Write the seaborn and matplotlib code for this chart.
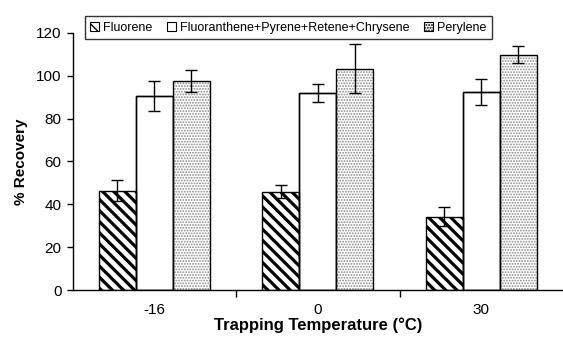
import matplotlib
matplotlib.use("Agg")
import matplotlib.pyplot as plt
import seaborn as sns
import pandas as pd
import numpy as np
from matplotlib.patches import Rectangle, Patch

categories = ["-16", "0", "30"]
series = ["Fluorene", "Fluoranthene+Pyrene+Retene+Chrysene", "Perylene"]
fluorene = [46.4, 45.8, 34.3]
fluoranthene = [90.6, 91.9, 92.4]
perylene = [97.6, 103.3, 109.8]
err_fluorene = [5.0, 3.0, 4.6]
err_fluoranthene = [7.0, 4.2, 6.2]
err_perylene = [5.0, 11.5, 4.0]

sns.set_theme(style="white")
plt.rcParams["font.family"] = ["Liberation Sans", "DejaVu Sans"]
for k in ["text.color", "axes.labelcolor", "xtick.color", "ytick.color"]:
    plt.rcParams[k] = "black"

rows = []
for s, vals in zip(series, [fluorene, fluoranthene, perylene]):
    for c, v in zip(categories, vals):
        rows.append({"Temp": c, "Series": s, "Value": v})
df = pd.DataFrame(rows)

fig = plt.figure(figsize=(5.63, 3.42), dpi=100)
ax = fig.add_axes([0.129, 0.152, 0.871, 0.752])
sns.barplot(data=df, x="Temp", y="Value", hue="Series", order=categories,
            hue_order=series, ax=ax, errorbar=None, width=0.68,
            palette=["white", "white", "white"], legend=False)

styles = [
    dict(hatch="\\\\\\", hcolor="black", hlw=2.3),
    dict(hatch=None, hcolor="black", hlw=1.0),
    dict(hatch="......", hcolor="#8a8a8a", hlw=0.9),
]
errs = [err_fluorene, err_fluoranthene, err_perylene]
conts = list(ax.containers)
for i, cont in enumerate(conts):
    st = styles[i]
    xs, ys = [], []
    for p in cont.patches:
        p.set_facecolor("white")
        if st["hatch"]:
            p.set_hatch(st["hatch"])
            p.set_edgecolor(st["hcolor"])
            p.set_linewidth(0)
            if hasattr(p, "set_hatch_linewidth"):
                p.set_hatch_linewidth(st["hlw"])
        else:
            p.set_edgecolor("black")
            p.set_linewidth(1.0)
        ax.add_patch(Rectangle(p.get_xy(), p.get_width(), p.get_height(),
                               fill=False, edgecolor="black", linewidth=1.0, zorder=3))
        xs.append(p.get_x() + p.get_width() / 2)
        ys.append(p.get_height())
    ax.errorbar(xs, ys, yerr=errs[i], fmt="none", ecolor="black",
                elinewidth=1.0, capsize=4, capthick=1.0, zorder=4)

ax.set_ylim(0, 120)
ax.set_xlim(-0.5, 2.5)
ax.set_yticks(np.arange(0, 121, 20))
ax.tick_params(axis="y", which="major", direction="out", length=4, width=1,
               color="black", labelcolor="black", labelsize=11, pad=4, left=True)
ax.set_xticks([0.5, 1.5])
ax.set_xticklabels(["", ""])
ax.tick_params(axis="x", which="major", direction="out", length=5, width=1,
               color="black", bottom=True)
ax.set_xticks([0, 1, 2], minor=True)
ax.set_xticklabels(categories, minor=True)
ax.tick_params(axis="x", which="minor", direction="in", length=3, width=1,
               color="black", labelcolor="black", labelsize=11, pad=9, bottom=True)

for side in ["top", "right"]:
    ax.spines[side].set_visible(False)
for side in ["left", "bottom"]:
    ax.spines[side].set_color("black")
    ax.spines[side].set_linewidth(1.0)

ax.set_xlabel("Trapping Temperature (°C)", fontsize=12, fontweight="bold",
              labelpad=1, color="black")
ax.set_ylabel("% Recovery", fontsize=11, fontweight="bold", labelpad=6, color="black")

handles = []
for st in styles:
    h = Patch(facecolor="white", edgecolor="black", hatch=st["hatch"], linewidth=0.8)
    handles.append(h)
leg = ax.legend(handles, series, loc="center left", bbox_to_anchor=(0.012, 1.02),
                ncol=3, fontsize=9, frameon=True, fancybox=False, edgecolor="black",
                handlelength=0.7, handleheight=0.7, handletextpad=0.3,
                columnspacing=1.2, borderpad=0.45)
leg.get_frame().set_linewidth(1.0)
for t in leg.get_texts():
    t.set_color("black")

fig.savefig("out.png", dpi=100)
